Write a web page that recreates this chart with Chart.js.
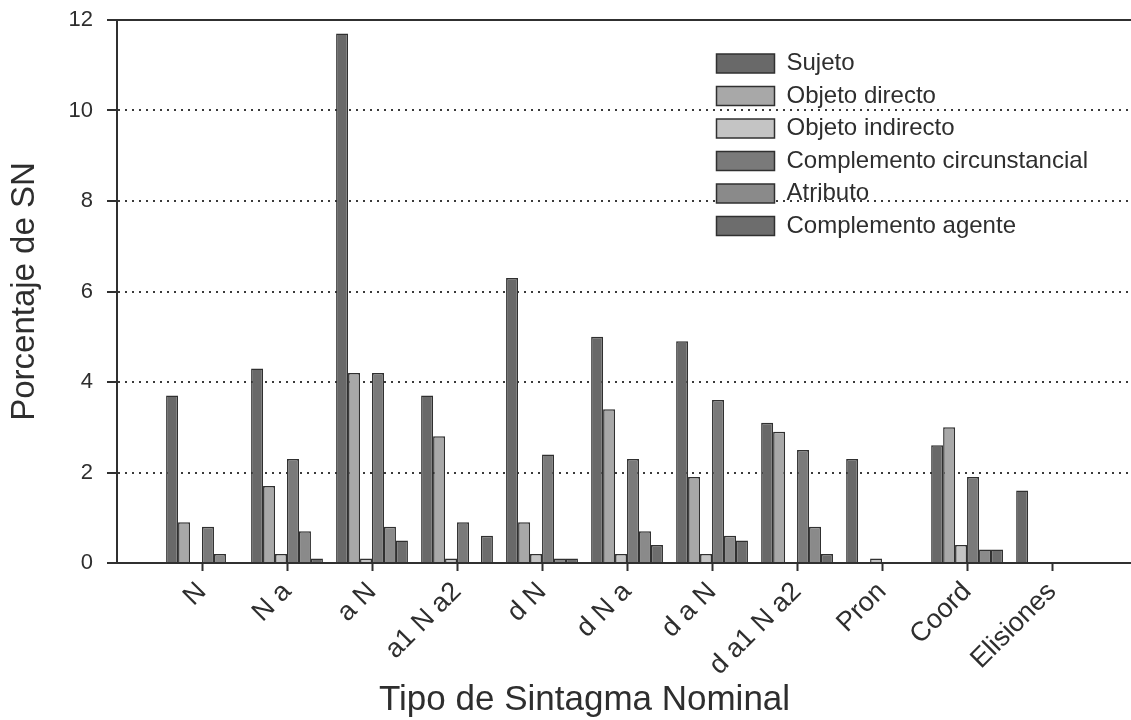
<!DOCTYPE html>
<html>
<head>
<meta charset="utf-8">
<title>Tipo de Sintagma Nominal</title>
<script src="https://cdn.jsdelivr.net/npm/chart.js@4.4.1/dist/chart.umd.min.js"></script>
<style>
  html, body { margin: 0; padding: 0; background: #fff; overflow: hidden; }
  #wrap { width: 1131px; height: 720px; overflow: hidden; }
</style>
</head>
<body>
<div id="wrap"><canvas id="snChart" width="1165" height="720"></canvas></div>
<script>
// Data (percentage of SN)
const categories = ['N', 'N a', 'a N', 'a1 N a2', 'd N', 'd N a', 'd a N', 'd a1 N a2', 'Pron', 'Coord', 'Elisiones'];
const sujeto          = [3.7, 4.3, 11.7, 3.7, 6.3, 5.0, 4.9, 3.1, 2.3, 2.6, 1.6];
const objetoDirecto   = [0.9, 1.7, 4.2, 2.8, 0.9, 3.4, 1.9, 2.9, 0, 3.0, 0];
const objetoIndirecto = [0, 0.2, 0.1, 0.1, 0.2, 0.2, 0.2, 0, 0.1, 0.4, 0];
const complCirc       = [0.8, 2.3, 4.2, 0.9, 2.4, 2.3, 3.6, 2.5, 0, 1.9, 0];
const atributo        = [0.2, 0.7, 0.8, 0, 0.1, 0.7, 0.6, 0.8, 0, 0.3, 0];
const complAgente     = [0, 0.1, 0.5, 0.6, 0.1, 0.4, 0.5, 0.2, 0, 0.3, 0];
const yTicks = [0, 2, 4, 6, 8, 10, 12];

const xTitle = 'Tipo de Sintagma Nominal';
const yTitle = 'Porcentaje de SN';
const textColor = '#2e2e2e';
const lineColor = '#303030';
const fontFamily = '"Liberation Sans", Arial, sans-serif';

// empty slot on each side so the groups sit one step away from the axes
const labels = [''].concat(categories, ['']);
const pad = arr => [null].concat(arr, [null]);

function series(label, values, color) {
  return {
    label: label,
    data: pad(values),
    backgroundColor: color,
    borderColor: lineColor,
    borderWidth: 1.5,
    borderSkipped: 'start'
  };
}

// put the legend inside the plot, upper right
const legendMover = {
  id: 'legendMover',
  afterLayout(chart) {
    const lg = chart.legend;
    const w = lg.width, h = lg.height;
    lg.left = 708;
    lg.top = 43;
    lg.right = lg.left + w;
    lg.bottom = lg.top + h;
  }
};

// x axis title, centred under the labelled part of the axis
const xTitlePlugin = {
  id: 'xTitle',
  afterDraw(chart) {
    const ctx = chart.ctx;
    const x = chart.scales.x;
    const cx = (chart.chartArea.left + x.getPixelForValue(categories.length)) / 2;
    ctx.save();
    ctx.font = '35px ' + fontFamily;
    ctx.fillStyle = textColor;
    ctx.textAlign = 'center';
    ctx.textBaseline = 'alphabetic';
    ctx.fillText(xTitle, cx, chart.height - 10);
    ctx.restore();
  }
};

const ctx = document.getElementById('snChart').getContext('2d');
const snChart = new Chart(ctx, {
  type: 'bar',
  data: {
    labels: labels,
    datasets: [
      series('Sujeto', sujeto, '#696969'),
      series('Objeto directo', objetoDirecto, '#a8a8a8'),
      series('Objeto indirecto', objetoIndirecto, '#c4c4c4'),
      series('Complemento circunstancial', complCirc, '#7a7a7a'),
      series('Atributo', atributo, '#8a8a8a'),
      series('Complemento agente', complAgente, '#6d6d6d')
    ]
  },
  options: {
    responsive: false,
    animation: false,
    layout: { padding: { top: 20, right: 10, left: 0, bottom: 0 } },
    datasets: {
      bar: { categoryPercentage: 0.845, barPercentage: 1.0 }
    },
    plugins: {
      legend: {
        position: 'chartArea',
        align: 'start',
        labels: {
          boxWidth: 58,
          boxHeight: 19,
          padding: 8.5,
          color: textColor,
          font: { family: fontFamily, size: 24 }
        }
      },
      tooltip: { enabled: false }
    },
    scales: {
      x: {
        type: 'category',
        offset: false,
        afterFit(scale) { scale.height = 157; },
        grid: {
          offset: false,
          drawOnChartArea: false,
          drawTicks: true,
          tickLength: 8,
          tickWidth: 2,
          tickColor: c => (c.index === 0 || c.index === labels.length - 1) ? 'rgba(0,0,0,0)' : lineColor
        },
        border: { display: true, color: lineColor, width: 2 },
        ticks: {
          autoSkip: false,
          minRotation: 45,
          maxRotation: 45,
          padding: 5,
          color: textColor,
          font: { family: fontFamily, size: 27 }
        }
      },
      xTop: {
        type: 'category',
        position: 'top',
        offset: false,
        afterFit(scale) { scale.height = 0; },
        grid: { display: false },
        ticks: { display: false },
        border: { display: true, color: lineColor, width: 2 }
      },
      y: {
        min: 0,
        max: 12,
        afterFit(scale) {
          scale.width = 117;
          scale.paddingTop = 0;
        },
        afterBuildTicks(scale) { scale.ticks = yTicks.map(v => ({ value: v })); },
        grid: {
          color: '#3a3a3a',
          lineWidth: 2,
          tickLength: 10,
          tickWidth: 2,
          tickColor: lineColor,
          tickBorderDash: []
        },
        border: { display: true, color: lineColor, width: 2, dash: [2, 5] },
        ticks: {
          padding: 14,
          color: textColor,
          font: { family: fontFamily, size: 22 }
        },
        title: {
          display: true,
          text: yTitle,
          color: textColor,
          padding: { top: 5, bottom: 0 },
          font: { family: fontFamily, size: 33 }
        }
      }
    }
  },
  plugins: [legendMover, xTitlePlugin]
});
</script>
</body>
</html>
